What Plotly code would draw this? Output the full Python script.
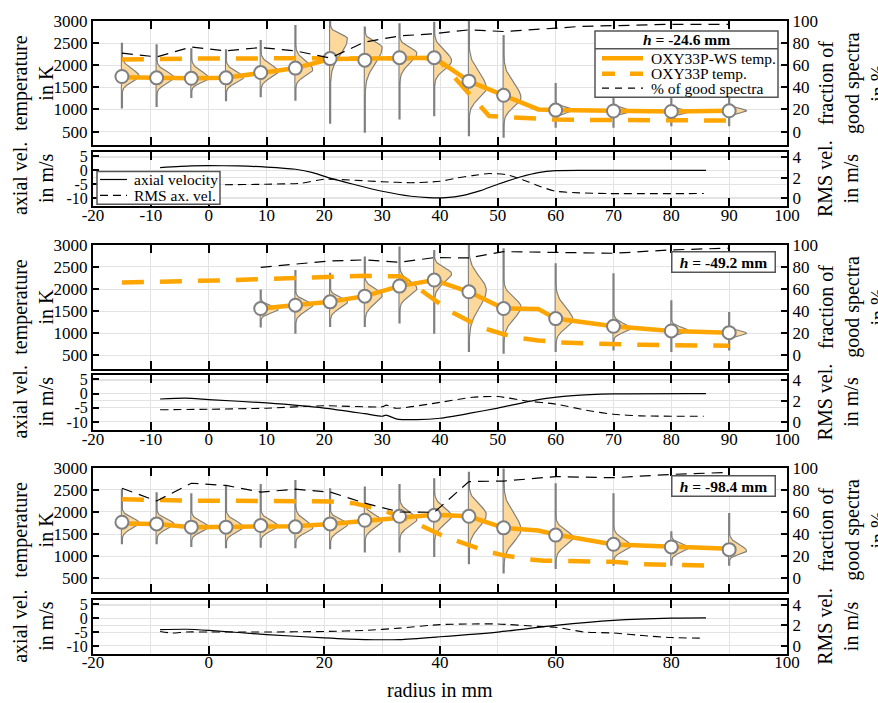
import numpy as np
import plotly.graph_objects as go

FONT = "Liberation Serif"
ORANGE = "#FFA500"
GREY = "#808080"
VFILL = "#FDD89B"

# ======================= DATA =======================
# ---------- h = -24.6 mm ----------
p1_r = [-15, -9, -3, 3, 9, 15, 21, 27, 33, 39, 45, 51, 60, 70, 80, 90]
p1_T = [1745, 1715, 1705, 1715, 1835, 1935, 2150, 2115, 2170, 2170, 1640, 1320, 985, 965, 955, 970]
p1_wmin = [1020, 1057, 1259, 1184, 1273, 1198, 674, 471, 770, 845, 395, 358, 584, 584, 620, 620]
p1_wmax = [2510, 2475, 2385, 2362, 2572, 2910, 3050, 2877, 2947, 2985, 3050, 2685, 1597, 1370, 1333, 1295]
p1_lo = [1370, 1334, 1411, 1372, 1446, 1484, 1559, 1334, 1600, 1520, 809, 658, 770, 807, 807, 807]
p1_pk = [1746, 1717, 1705, 1720, 1858, 1900, 2600, 2400, 2270, 2100, 1484, 1259, 987, 957, 942, 972]
p1_hi = [2230, 2122, 2160, 2122, 2309, 2460, 2910, 2760, 2650, 2760, 2498, 2234, 1183, 1145, 1107, 1107]
p1_ws_r = [-15, -9, -3, 3, 9, 15, 21, 27, 33, 39, 45, 51, 57, 60, 70, 80, 90]
p1_ws_T = [1730, 1712, 1705, 1715, 1835, 1935, 2140, 2150, 2170, 2170, 1640, 1320, 1000, 985, 965, 955, 970]
p1_oxy_r = [-15, -9, -3, 3, 9, 15, 21, 27, 33, 39.5, 48.5, 51, 55, 60, 70, 80, 90]
p1_oxy_T = [2130, 2150, 2150, 2150, 2160, 2160, 2150, 2160, 2165, 2160, 850, 830, 795, 770, 760, 750, 750]
p1_good_r = [-15, -9, -3, 3, 9, 15, 21, 27, 33, 39, 45, 51, 60, 64, 70, 80, 90]
p1_good = [71, 67.5, 76.5, 73, 76, 73, 66.5, 81, 86.5, 88.5, 92, 90.5, 93.5, 95, 95.8, 97, 97]
p1_vel_r = [-8.4, -3, 0, 5, 10, 15, 18, 21, 25, 30, 35, 38, 41, 44, 47, 50, 54, 57, 60, 65, 86]
p1_vel = [1.0, 1.6, 1.7, 1.6, 1.2, 0.4, -0.8, -2.8, -5.0, -7.5, -9.3, -9.8, -9.8, -9.0, -7.3, -5.0, -2.3, -0.8, -0.1, 0.0, 0.0]
p1_rms_r = [-8.4, -3, 2, 10, 16, 20, 25, 30, 35, 40, 43, 45.6, 48.5, 51.4, 54.3, 57.2, 60, 64, 69, 85.6]
p1_rms = [1.3, 1.3, 1.3, 1.35, 1.45, 1.85, 1.75, 1.6, 1.5, 1.64, 1.97, 2.2, 2.4, 2.3, 1.8, 1.15, 0.66, 0.5, 0.43, 0.43]

# ---------- h = -49.2 mm ----------
p2_r = [9, 15, 21, 27, 33, 39, 45, 51, 60, 70, 80, 90]
p2_T = [1560, 1636, 1712, 1841, 2068, 2205, 1939, 1561, 1333, 1159, 1053, 1015]
p2_wmin = [1129, 992, 1144, 1144, 1220, 992, 576, 538, 576, 614, 576, 614]
p2_wmax = [1992, 2432, 2371, 2735, 2962, 2886, 3050, 2924, 2583, 2356, 1750, 1480]
p2_lo = [1295, 1220, 1295, 1295, 1523, 1750, 803, 803, 765, 841, 879, 841]
p2_pk = [1538, 1636, 1712, 1864, 2015, 2350, 1977, 1598, 1295, 1106, 1053, 1000]
p2_hi = [1788, 1939, 2015, 2280, 2508, 2735, 2886, 2205, 2129, 1447, 1295, 1180]
p2_ws_r = [9, 15, 21, 27, 33, 39, 45, 51, 57, 60, 70, 80, 90]
p2_ws_T = [1560, 1636, 1712, 1841, 2068, 2205, 1939, 1561, 1550, 1333, 1159, 1053, 1015]
p2_oxy_r = [-15, -9, -3, 3, 9, 15, 21, 27, 33, 35, 37.5, 40, 42, 45, 48, 51, 54, 57, 60, 65, 70, 75, 80, 90]
p2_oxy_T = [2150, 2160, 2180, 2200, 2225, 2255, 2280, 2300, 2290, 2150, 1900, 1670, 1485, 1280, 1100, 980, 890, 840, 800, 775, 750, 740, 730, 720]
p2_good_r = [9, 15, 21, 27, 33, 39, 45, 51, 60, 70, 80, 90]
p2_good = [79.7, 82.7, 85.5, 86.4, 84.2, 88.5, 88.2, 93.9, 93.3, 92.4, 95.5, 97]
p2_vel_r = [-8.4, -4, 0, 10, 20, 27, 30, 30.7, 32.4, 36, 40, 45, 50, 57, 63, 70, 86]
p2_vel = [-1.9, -1.6, -2.1, -3.3, -5.1, -7.1, -8.0, -7.6, -8.9, -9.2, -8.7, -7.0, -5.1, -2.1, -0.7, -0.1, 0.0]
p2_rms_r = [-8.4, 0, 10, 20, 30, 30.7, 32.4, 40, 45.6, 50, 55, 60, 65.8, 70, 74.6, 85.6]
p2_rms = [1.15, 1.2, 1.3, 1.54, 1.44, 1.6, 1.3, 1.87, 2.36, 2.43, 2.0, 1.7, 1.05, 0.72, 0.56, 0.52]

# ---------- h = -98.4 mm ----------
p3_r = [-15, -9, -3, 3, 9, 15, 21, 27, 33, 39, 45, 51, 60, 70, 80, 90]
p3_T = [1769, 1731, 1657, 1657, 1694, 1664, 1731, 1813, 1903, 1925, 1903, 1642, 1478, 1269, 1209, 1149]
p3_wmin = [1269, 1269, 1209, 1179, 1194, 1179, 1157, 1082, 1082, 985, 821, 612, 709, 784, 784, 784]
p3_wmax = [2522, 2448, 2425, 2612, 2634, 2724, 2537, 2575, 2634, 2761, 2910, 2985, 2649, 2425, 1567, 1978]
p3_lo = [1381, 1381, 1343, 1306, 1343, 1306, 1306, 1343, 1381, 1343, 1119, 784, 896, 896, 896, 896]
p3_pk = [1754, 1731, 1657, 1657, 1680, 1640, 1720, 1791, 1828, 1903, 1940, 1604, 1418, 1231, 1194, 1119]
p3_hi = [2090, 2052, 2015, 2052, 2052, 2127, 2052, 2201, 2313, 2463, 2612, 2649, 1903, 1679, 1455, 1530]
p3_ws_r = [-15, -9, -3, 3, 9, 15, 21, 27, 33, 39, 45, 51, 57, 60, 70, 80, 90]
p3_ws_T = [1740, 1731, 1657, 1657, 1680, 1680, 1731, 1800, 1890, 1940, 1903, 1642, 1580, 1490, 1265, 1210, 1170]
p3_oxy_r = [-15, -9, -3, 3, 9, 15, 21, 25, 30, 35, 38, 40, 42, 45, 48, 51, 55, 58, 61, 67, 70, 75, 80, 88]
p3_oxy_T = [2290, 2260, 2255, 2255, 2255, 2250, 2240, 2200, 2050, 1800, 1600, 1490, 1390, 1240, 1115, 1020, 935, 900, 895, 893, 873, 820, 800, 785]
p3_good_r = [-15, -9, -3, 3, 9, 15, 21, 27, 33, 39, 45, 51, 60, 70, 80, 90]
p3_good = [81.5, 70, 86, 84, 78, 80.6, 78, 68, 60, 59.7, 87.5, 88, 92, 91, 94, 95.8]
p3_vel_r = [-8.4, -3.9, 0, 10, 20, 27, 33, 40, 50, 60, 70, 80, 86]
p3_vel = [-4.1, -4.0, -4.4, -5.9, -7.1, -7.7, -7.7, -6.7, -5.0, -2.6, -0.8, 0.0, 0.1]
p3_rms_r = [-8.4, -6.3, -3.9, 0, 10, 20, 27, 33, 40, 45.6, 50, 57, 60, 65, 70, 75, 80, 85.6]
p3_rms = [1.4, 1.25, 1.35, 1.35, 1.35, 1.4, 1.5, 1.73, 2.08, 2.14, 2.14, 1.9, 1.82, 1.34, 1.25, 1.0, 0.8, 0.74]

heights = ["-24.6", "-49.2", "-98.4"]

# tick labels
x_ticks = list(range(-20, 101, 10))
x_ticks_coarse = list(range(-20, 101, 20))
T_ticks = [500, 1000, 1500, 2000, 2500, 3000]
pct_ticks = [0, 20, 40, 60, 80, 100]
v_ticks = [-10, -5, 0, 5]
rms_ticks = [0, 2, 4]

panels = [
    dict(r=p1_r, T=p1_T, wmin=p1_wmin, wmax=p1_wmax, lo=p1_lo, pk=p1_pk, hi=p1_hi,
         ws_r=p1_ws_r, ws_T=p1_ws_T, oxy_r=p1_oxy_r, oxy_T=p1_oxy_T, good_r=p1_good_r, good=p1_good,
         vel_r=p1_vel_r, vel=p1_vel, rms_r=p1_rms_r, rms=p1_rms),
    dict(r=p2_r, T=p2_T, wmin=p2_wmin, wmax=p2_wmax, lo=p2_lo, pk=p2_pk, hi=p2_hi,
         ws_r=p2_ws_r, ws_T=p2_ws_T, oxy_r=p2_oxy_r, oxy_T=p2_oxy_T, good_r=p2_good_r, good=p2_good,
         vel_r=p2_vel_r, vel=p2_vel, rms_r=p2_rms_r, rms=p2_rms),
    dict(r=p3_r, T=p3_T, wmin=p3_wmin, wmax=p3_wmax, lo=p3_lo, pk=p3_pk, hi=p3_hi,
         ws_r=p3_ws_r, ws_T=p3_ws_T, oxy_r=p3_oxy_r, oxy_T=p3_oxy_T, good_r=p3_good_r, good=p3_good,
         vel_r=p3_vel_r, vel=p3_vel, rms_r=p3_rms_r, rms=p3_rms),
]

# ======================= LAYOUT GEOMETRY =======================
W, H = 878, 703
ML, MR, MT, MB = 93, 91, 15, 49
PW, PH = W - ML - MR, H - MT - MB


def px2x(px):
    return (px - ML) / PW


def px2y(py):
    return (H - MB - py) / PH


T_box = [(15, 140), (241, 366), (466, 591)]
V_box = [(147, 202), (372, 428), (599, 654)]

T_range = [200, 3000]
pct_range = [(T_range[0] - 500) / 25.0, (T_range[1] - 500) / 25.0]
V_range = [-12.9, 6.7]
R_range = [-0.82, 4.55]
VIOLIN_W = 3.0


def violin_xy(x0s, los, pks, his, n=30):
    xs, ys = [], []
    for x0, lo, pk, hi in zip(x0s, los, pks, his):
        td = np.linspace(lo, pk, n)
        tu = np.linspace(pk, hi, n)[1:]
        sd = (pk - lo) / 3.0
        su = (hi - pk) / 3.0
        wd = VIOLIN_W * np.exp(-0.5 * ((td - pk) / sd) ** 2)
        wu = VIOLIN_W * np.exp(-0.5 * ((tu - pk) / su) ** 2)
        xs += [x0] + list(x0 + wd) + list(x0 + wu) + [x0, None]
        ys += [lo] + list(td) + list(tu) + [hi, None]
    return xs, ys


fig = go.Figure()
axis_font = dict(family=FONT, size=17, color="black")
vaxis_font = dict(family=FONT, size=16, color="black")

for i, p in enumerate(panels):
    xT, xV = f"x{2*i+1}", f"x{2*i+2}"
    yT, yV = f"y{2*i+1}", f"y{2*i+2}"
    yTr, yVr = f"y{7+2*i}", f"y{8+2*i}"
    xT = "x" if xT == "x1" else xT
    yT = "y" if yT == "y1" else yT

    # whiskers
    wx, wy = [], []
    for x0, a, b in zip(p["r"], p["wmin"], p["wmax"]):
        wx += [x0, x0, None]
        wy += [a, b, None]
    fig.add_trace(go.Scatter(x=wx, y=wy, mode="lines", line=dict(color=GREY, width=2.2),
                             xaxis=xT, yaxis=yT, showlegend=False, hoverinfo="skip"))
    # violins
    vx, vy = violin_xy(p["r"], p["lo"], p["pk"], p["hi"])
    fig.add_trace(go.Scatter(x=vx, y=vy, mode="lines", fill="toself", fillcolor=VFILL,
                             line=dict(color=GREY, width=1.2), xaxis=xT, yaxis=yT,
                             showlegend=False, hoverinfo="skip"))
    # OXY33P temp (dashed)
    fig.add_trace(go.Scatter(x=p["oxy_r"], y=p["oxy_T"], mode="lines",
                             line=dict(color=ORANGE, width=4.5, dash="22px,16px"),
                             xaxis=xT, yaxis=yT, showlegend=False))
    # OXY33P-WS temp (solid)
    fig.add_trace(go.Scatter(x=p["ws_r"], y=p["ws_T"], mode="lines",
                             line=dict(color=ORANGE, width=4.5),
                             xaxis=xT, yaxis=yT, showlegend=False))
    # markers
    fig.add_trace(go.Scatter(x=p["r"], y=p["T"], mode="markers",
                             marker=dict(size=13, color="white", line=dict(color=GREY, width=2)),
                             xaxis=xT, yaxis=yT, showlegend=False))
    # % good spectra
    fig.add_trace(go.Scatter(x=p["good_r"], y=p["good"], mode="lines",
                             line=dict(color="black", width=1.2, dash="11px,7px"),
                             xaxis=xT, yaxis=yTr, showlegend=False))
    # axial velocity
    fig.add_trace(go.Scatter(x=p["vel_r"], y=p["vel"], mode="lines", line_shape="spline",
                             line=dict(color="black", width=1.2, smoothing=0.6),
                             xaxis=xV, yaxis=yV, showlegend=False))
    # RMS velocity
    fig.add_trace(go.Scatter(x=p["rms_r"], y=p["rms"], mode="lines", line_shape="spline",
                             line=dict(color="black", width=1.1, dash="8px,5px", smoothing=0.6),
                             xaxis=xV, yaxis=yVr, showlegend=False))

layout = dict(
    width=W, height=H, autosize=False,
    margin=dict(l=ML, r=MR, t=MT, b=MB),
    paper_bgcolor="white", plot_bgcolor="white",
    font=dict(family=FONT, size=17, color="black"),
    showlegend=False,
)

GRID = "#e3e3e3"
for i in range(3):
    tdom = [px2y(T_box[i][1]), px2y(T_box[i][0])]
    vdom = [px2y(V_box[i][1]), px2y(V_box[i][0])]
    xa_common = dict(range=[-20, 100], showline=True, linecolor="black", linewidth=2,
                     mirror="ticks", ticks="inside", ticklen=8, tickwidth=2, tickcolor="black",
                     showgrid=True, gridcolor=GRID, gridwidth=1, zeroline=False,
                     tickfont=axis_font, domain=[0, 1], ticklabelstandoff=-8)
    layout[f"xaxis{2*i+1}"] = dict(xa_common, anchor=f"y{2*i+1}" if i else "y",
                                   tickvals=x_ticks, showticklabels=False)
    if i < 2:
        layout[f"xaxis{2*i+2}"] = dict(xa_common, anchor=f"y{2*i+2}", tickvals=x_ticks,
                                       ticktext=[str(v) for v in x_ticks], showticklabels=True)
    else:
        layout[f"xaxis{2*i+2}"] = dict(xa_common, anchor=f"y{2*i+2}", tickvals=x_ticks_coarse,
                                       ticktext=[str(v) for v in x_ticks_coarse], showticklabels=True,
                                       minor=dict(tickvals=list(range(-10, 100, 20)), showgrid=True,
                                                  gridcolor=GRID, ticks=""))
    ya_common = dict(showline=True, linecolor="black", linewidth=2, ticks="inside", ticklen=6,
                     tickwidth=1.5, tickcolor="black", zeroline=False, tickfont=axis_font)
    xname = "x" if i == 0 else f"x{2*i+1}"
    layout[f"yaxis{2*i+1}"] = dict(ya_common, domain=tdom, range=T_range, anchor=xname,
                                   tickvals=T_ticks, ticktext=[str(v) for v in T_ticks],
                                   showgrid=True, gridcolor=GRID)
    layout[f"yaxis{2*i+2}"] = dict(ya_common, domain=vdom, range=V_range, anchor=f"x{2*i+2}",
                                   tickvals=v_ticks, ticktext=[str(v) for v in v_ticks],
                                   showgrid=True, gridcolor=GRID, tickfont=vaxis_font)
    layout[f"yaxis{7+2*i}"] = dict(ya_common, range=pct_range, side="right",
                                   overlaying="y" if i == 0 else f"y{2*i+1}", anchor=xname,
                                   tickvals=pct_ticks, ticktext=[str(v) for v in pct_ticks],
                                   showgrid=False)
    layout[f"yaxis{8+2*i}"] = dict(ya_common, range=R_range, side="right",
                                   overlaying=f"y{2*i+2}", anchor=f"x{2*i+2}",
                                   tickvals=rms_ticks, ticktext=[str(v) for v in rms_ticks],
                                   showgrid=True, gridcolor=GRID)

fig.update_layout(**layout)

# ---------------- titles ----------------
ann = []
TITLE = 20
for i in range(3):
    tc = (T_box[i][0] + T_box[i][1]) / 2
    vc = (V_box[i][0] + V_box[i][1]) / 2
    ann.append(dict(text="temperature<br>in K", x=px2x(33), y=px2y(tc)))
    ann.append(dict(text="fraction of<br>good spectra<br>in %", x=px2x(852), y=px2y(tc)))
    ann.append(dict(text="axial vel.<br>in m/s", x=px2x(33), y=px2y(vc)))
    ann.append(dict(text="RMS vel.<br>in m/s", x=px2x(838), y=px2y(vc)))
for a in ann:
    a.update(xref="paper", yref="paper", textangle=-90, showarrow=False,
             xanchor="center", yanchor="middle", font=dict(family=FONT, size=TITLE, color="black"))
ann.append(dict(text="radius in mm", x=px2x(440), y=px2y(690), xref="paper", yref="paper",
                showarrow=False, xanchor="center", yanchor="middle",
                font=dict(family=FONT, size=TITLE, color="black")))

# h-labels for panels 2 and 3
for i, yc in [(1, 258), (2, 484)]:
    ann.append(dict(text=f"<b><i>h</i> = {heights[i]} mm</b>", x=px2x(723), y=px2y(yc),
                    xref="paper", yref="paper", showarrow=False, xanchor="center", yanchor="middle",
                    bgcolor="white", bordercolor="#555555", borderwidth=1.5, borderpad=1, width=100,
                    font=dict(family=FONT, size=15.5, color="black")))

# ---------------- legend (panel 1) ----------------
shapes = []
LB = dict(x0=595, x1=778, y0=25, y1=92)
shapes.append(dict(type="rect", xref="paper", yref="paper", x0=px2x(LB["x0"]), x1=px2x(LB["x1"]),
                   y0=px2y(LB["y1"]), y1=px2y(LB["y0"]), fillcolor="white",
                   line=dict(color="#555555", width=1.5)))
shapes.append(dict(type="line", xref="paper", yref="paper", x0=px2x(LB["x0"]), x1=px2x(LB["x1"]),
                   y0=px2y(43), y1=px2y(43), line=dict(color="#555555", width=1.5)))
ann.append(dict(text=f"<b><i>h</i> = {heights[0]} mm</b>", x=px2x(686.5), y=px2y(34),
                xref="paper", yref="paper", showarrow=False, xanchor="center", yanchor="middle",
                font=dict(family=FONT, size=15.5, color="black")))
leg_items = [("OXY33P-WS temp.", ORANGE, 4.5, "solid", 52.7),
             ("OXY33P temp.", ORANGE, 4.5, "13px,15px", 68.3),
             ("% of good spectra", "black", 1.2, "7px,6px", 82.7)]
for txt, col, lw, dash, yy in leg_items:
    shapes.append(dict(type="line", xref="paper", yref="paper", x0=px2x(602), x1=px2x(643),
                       y0=px2y(yy), y1=px2y(yy), line=dict(color=col, width=lw, dash=dash)))
    ann.append(dict(text=txt, x=px2x(649), y=px2y(yy), xref="paper", yref="paper", showarrow=False,
                    xanchor="left", yanchor="middle", font=dict(family=FONT, size=15.5, color="black")))

# velocity legend (panel 1)
shapes.append(dict(type="rect", xref="paper", yref="paper", x0=px2x(97), x1=px2x(220),
                   y0=px2y(200), y1=px2y(167), fillcolor="white",
                   line=dict(color="#555555", width=1.5)))
for txt, dash, yy in [("axial velocity", "solid", 175), ("RMS ax. vel.", "8px,5px", 191)]:
    shapes.append(dict(type="line", xref="paper", yref="paper", x0=px2x(100), x1=px2x(127),
                       y0=px2y(yy), y1=px2y(yy), line=dict(color="black", width=1.2, dash=dash)))
    ann.append(dict(text=txt, x=px2x(132), y=px2y(yy), xref="paper", yref="paper", showarrow=False,
                    xanchor="left", yanchor="middle", font=dict(family=FONT, size=15.5, color="black")))

fig.update_layout(annotations=ann, shapes=shapes)
fig.write_html("out.html", config={"displayModeBar": False},
               post_script="document.body.style.margin='0px';document.body.style.overflow='hidden';")
